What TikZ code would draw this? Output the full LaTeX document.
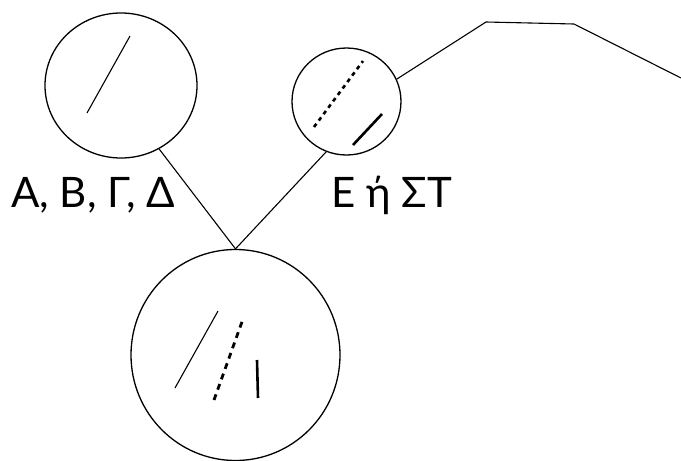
\documentclass[tikz,border=0pt]{standalone}
\usepackage{fontspec}
\setmainfont{Lato}
\usetikzlibrary{shapes.geometric}
\begin{document}
\begin{tikzpicture}[x=1pt,y=-1pt,
  ring/.style={draw,ellipse,line width=1.3pt,inner sep=0pt},
  link/.style={line width=1.1pt},
  thinmark/.style={line width=1.1pt},
  boldmark/.style={line width=2.6pt},
  dotmark/.style={line width=2.6pt,dash pattern=on 4pt off 4pt},
  bigdotmark/.style={line width=2.8pt,dash pattern=on 6pt off 5pt},
  label/.style={font=\fontsize{42}{42}\selectfont,anchor=base west,inner sep=0pt}]
\useasboundingbox (0,0) rectangle (681,461);
% circles
\node[ring,minimum width=152pt,minimum height=145pt] (A) at (121,85.5) {};
\node[ring,minimum width=109pt,minimum height=107pt] (E) at (346.5,101.5) {};
\node[ring,minimum width=209pt,minimum height=211pt] (C) at (235.5,355) {};
% labels
\node[label] (la) at (11,207) {Α, Β, Γ, Δ};
\node[label] (le) at (331,207) {Ε ή ΣΤ};
% connectors
\draw[link] (A.-59) -- (C.north);
\draw[link] (E.-112) -- (C.north);
\coordinate (p1) at (486,22);
\coordinate (p2) at (574,24);
\coordinate (p3) at (681,78);
\draw[link] (E.24) -- (p1) -- (p2) -- (p3);
% marks inside the circles
\draw[thinmark] (87,113) -- (130,36);
\draw[dotmark] (314,127) -- (363,61);
\draw[boldmark] (353,145) -- (382,114);
\draw[thinmark] (175,388) -- (218,311);
\draw[bigdotmark] (214,400) -- (243,319);
\draw[boldmark] (257,360) -- (258,398);
\end{tikzpicture}
\end{document}
